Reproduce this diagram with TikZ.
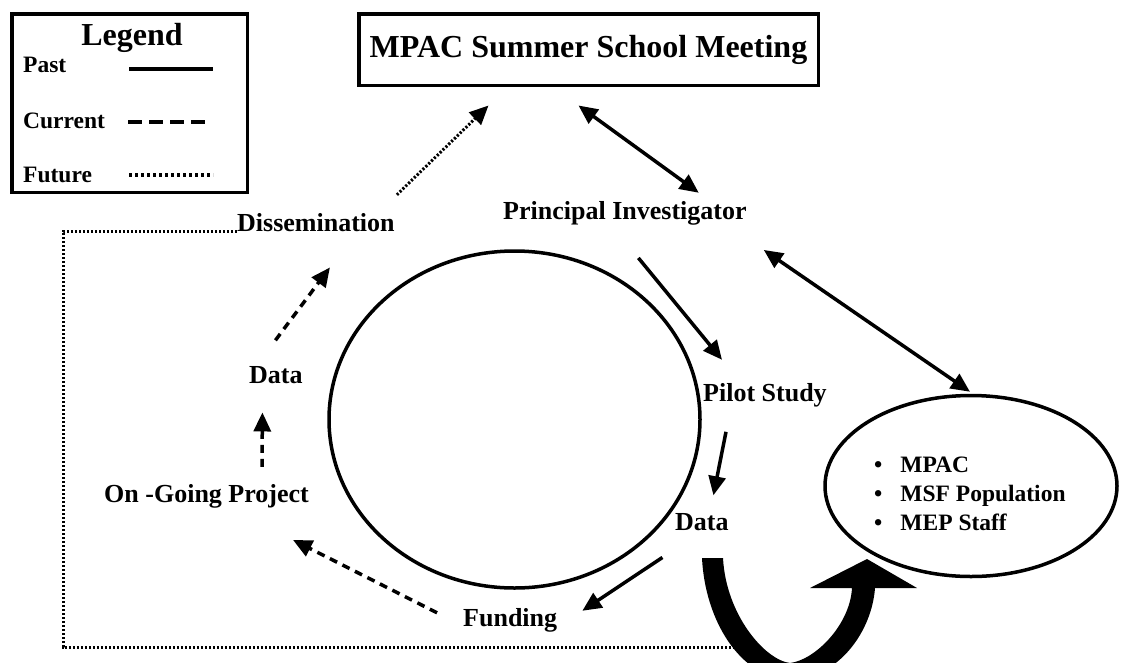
\documentclass[tikz,border=0pt]{standalone}
\usepackage{fontspec}
\setmainfont{Liberation Serif}
\usetikzlibrary{arrows.meta,shapes.geometric}

\begin{document}
\begin{tikzpicture}[x=1pt,y=-1pt,>={Triangle[length=19pt,width=17pt]}]
				\tikzstyle{lbl} = [font=\fontsize{26}{30}\selectfont\bfseries,inner sep=0pt,anchor=base west];
				\tikzstyle{keytext} = [font=\fontsize{23.5}{28}\selectfont\bfseries,inner sep=0pt,anchor=base west];
				\tikzstyle{box} = [draw=black,line width=3.5pt,inner sep=0pt];
				\tikzstyle{pastline} = [line width=3.5pt];
				\tikzstyle{currentline} = [line width=3.5pt,dash pattern=on 8pt off 6pt];
				\tikzstyle{futureline} = [line width=3pt,dash pattern=on 2.2pt off 1.8pt];
				\useasboundingbox (0,0) rectangle (1122,662);
				% legend
				\node[box,minimum width=235.5pt,minimum height=178.5pt] (legend) at (129.5,103) {};
				\node[font=\fontsize{32}{36}\selectfont\bfseries,inner sep=0pt,anchor=base] (legendtitle) at (132,45) {Legend};
				\node[keytext] (keypast) at (23,72) {Past};
				\node[keytext] (keycurrent) at (23,128) {Current};
				\node[keytext] (keyfuture) at (23,182) {Future};
				\draw[pastline,line width=4pt] (129,68.5) -- (213,68.5);
				\draw[currentline,dash pattern=on 14pt off 7pt] (128,122) -- (212,122);
				\draw[futureline,line width=3.5pt,dash pattern=on 3pt off 3pt] (129,175) -- (213,175);
				% nodes
				\node[box,minimum width=459.5pt,minimum height=71.5pt,font=\fontsize{32}{36}\selectfont\bfseries] (title) at (588.5,49.5) {MPAC Summer School Meeting};
				\node[draw=black,line width=3.5pt,ellipse,minimum width=371pt,minimum height=337pt] (cycle) at (514.5,419.5) {};
				\node[draw=black,line width=3.5pt,ellipse,minimum width=292pt,minimum height=181pt] (groups) at (971,486) {};
				\node[keytext] (groupa) at (874,472) {\textbullet\hspace{18pt}MPAC};
				\node[keytext] (groupb) at (874,501) {\textbullet\hspace{18pt}MSF Population};
				\node[keytext] (groupc) at (874,530) {\textbullet\hspace{18pt}MEP Staff};
				\node[lbl] (dissem) at (237,231) {Dissemination};
				\node[lbl] (pi) at (503,219) {Principal Investigator};
				\node[lbl] (pilot) at (703,401) {Pilot Study};
				\node[lbl] (datar) at (675,530) {Data};
				\node[lbl] (funding) at (463,626) {Funding};
				\node[lbl,anchor=base east] (ongoing) at (309,502) {On -Going Project};
				\node[lbl] (datal) at (249,383) {Data};
				% connectors
				\draw[futureline,->] ([shift={(2,-18)}]dissem.north east) -- ([shift={(-100,18.5)}]title.south);
				\draw[pastline,<->] ([shift={(-10,18.5)}]title.south) -- ([shift={(-48,-8)}]pi.north east);
				\draw[pastline,->] ([shift={(13.5,33)}]pi.south) -- ([shift={(19,-23)}]pilot.north west);
				\draw[pastline,<->] ([shift={(17,25)}]pi.south east) -- ([shift={(-1,-2)}]groups.north);
				\draw[pastline,->] ([shift={(23,25)}]pilot.south west) -- ([shift={(11.5,-17.5)}]datar.north);
				\draw[pastline,->] ([shift={(-39.5,27)}]datar.south) -- ([shift={(25,3)}]funding.north east);
				\draw[currentline,->] ([shift={(-26,5)}]funding.north west) -- ([shift={(-16,32)}]ongoing.south east);
				\draw[currentline,->] ([shift={(-47,-17)}]ongoing.north east) -- ([shift={(-13.5,29)}]datal.south);
				\draw[currentline,->] ([shift={(-0.5,-25.5)}]datal.north) -- ([shift={(14,36)}]dissem.south);
				\coordinate (loopcorner) at (63,647);
				\coordinate (loopend) at (735,647);
				\draw[futureline] (dissem.base west) -| (loopcorner) -- (loopend);
				% u-turn arrow
				\fill[black] (702,558) .. controls (705,620) and (740,678) .. (790,680) .. controls (840,678) and (872,630) .. (875,588)
					-- (917,588) -- (867,559) -- (810,588) -- (852,588)
					.. controls (850,625) and (815,660) .. (790,663) .. controls (765,660) and (726,615) .. (723,558) -- cycle;
			\end{tikzpicture}
\end{document}
